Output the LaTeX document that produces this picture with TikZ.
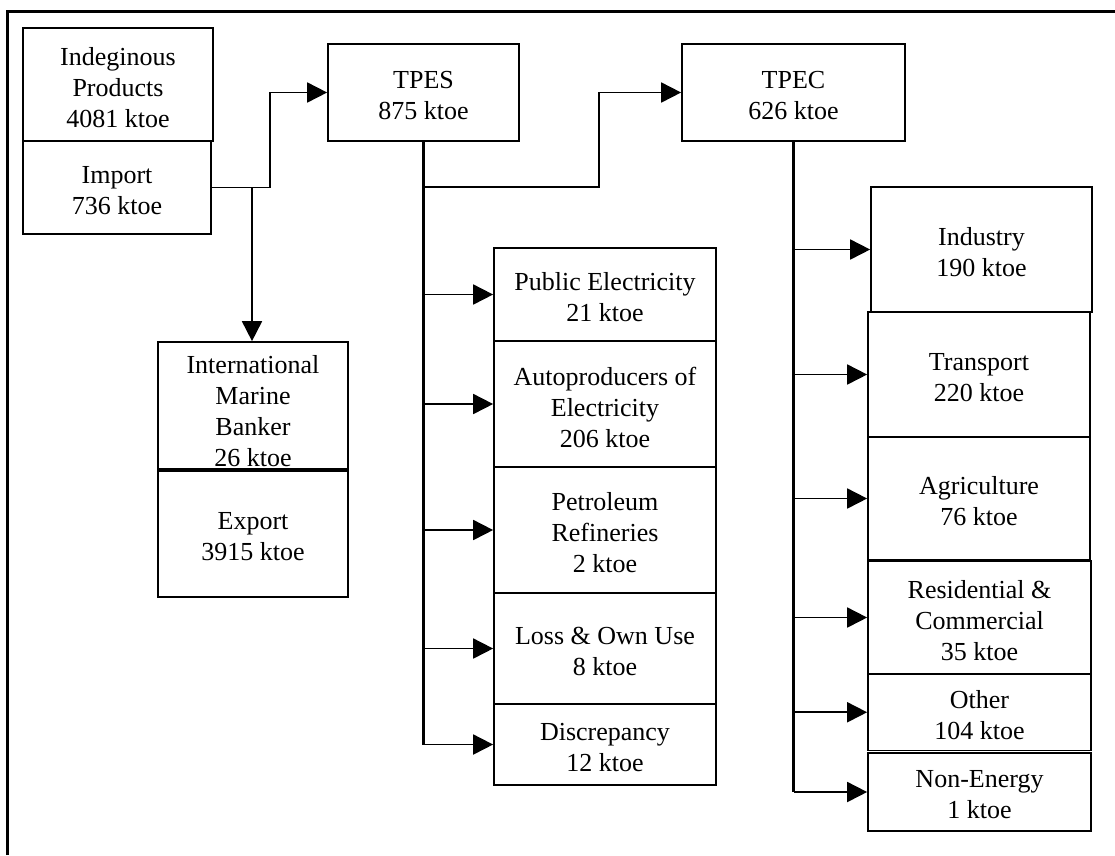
\documentclass[tikz,border=0pt]{standalone}
\usepackage{fontspec}
\setmainfont{Liberation Serif}
\usetikzlibrary{arrows.meta}
\newcommand\mkbox[7][-3pt]{%
  \node[boxframe, minimum width=#5, minimum height=#6] (#2) at (#3,#4) {};
  \node[boxtext] (#2-t) at ([yshift=#1]#2.center) {#7};}
\begin{document}
\begin{tikzpicture}[x=1pt,y=-1pt,
  boxframe/.style={draw, line width=1.7pt, inner sep=0pt},
  boxtext/.style={inner sep=0pt, align=center, font=\fontsize{26}{31}\selectfont},
  trunk/.style={line width=2.6pt},
  arr/.style={line width=1.8pt, -{Triangle[length=20pt,width=20pt]}},
  frame/.style={line width=3pt}]
\useasboundingbox (0,0) rectangle (1115,855);
% frame (only top and left edges visible)
\draw[frame] (7,855) -- (7,11) -- (1115,11);

% left column
\mkbox{ind}{118}{84.5}{190pt}{113pt}{Indeginous\\Products\\4081 ktoe}
\mkbox{imp}{117}{187.5}{188pt}{93pt}{Import\\736 ktoe}
\mkbox[-5.5pt]{intl}{253}{405.5}{190pt}{127pt}{\fontsize{26}{32}\selectfont International\\Marine\\Banker\\26 ktoe}
\mkbox{exp}{253}{534}{190pt}{126pt}{Export\\3915 ktoe}

% TPES / TPEC
\mkbox{tpes}{423.5}{92.5}{191pt}{97pt}{TPES\\875 ktoe}
\mkbox{tpec}{793.5}{92.5}{223pt}{97pt}{TPEC\\626 ktoe}

% TPES outputs
\mkbox{pub}{605}{294.5}{222pt}{93pt}{Public Electricity\\21 ktoe}
\mkbox{auto}{605}{404}{222pt}{126pt}{Autoproducers of\\Electricity\\206 ktoe}
\mkbox{petr}{605}{530}{222pt}{126pt}{Petroleum\\Refineries\\2 ktoe}
\mkbox{loss}{605}{648.5}{222pt}{111pt}{Loss \& Own Use\\8 ktoe}
\mkbox{disc}{605}{744.5}{222pt}{81pt}{Discrepancy\\12 ktoe}

% TPEC outputs
\mkbox{indu}{981.5}{249.5}{221pt}{125pt}{Industry\\190 ktoe}
\mkbox{trans}{979}{374.5}{222pt}{125pt}{Transport\\220 ktoe}
\mkbox{agri}{979}{498.5}{222pt}{123pt}{Agriculture\\76 ktoe}
\mkbox{res}{979.5}{617.5}{223pt}{113pt}{Residential \&\\Commercial\\35 ktoe}
\mkbox{oth}{979.5}{712.25}{223pt}{76.5pt}{Other\\104 ktoe}
\mkbox{nonen}{979.5}{792}{223pt}{78pt}{Non-Energy\\1 ktoe}

% import flows
\coordinate (j1) at (252,187.5);
\draw[arr] (imp.east) -- ([xshift=58pt]imp.east) |- (tpes.west);
\draw[arr] (j1) -- (intl.north -| j1);

% TPES trunk and branches
\coordinate (t1) at (tpes.south |- 0,187);
\draw[trunk] (tpes.south) -- (tpes.south |- disc.west);
\draw[arr] (t1) -| ([xshift=-82pt]tpec.west) -- (tpec.west);
\foreach \n in {pub,auto,petr,loss,disc}
  \draw[arr] (tpes.south |- \n.west) -- (\n.west);

% TPEC trunk and branches
\draw[trunk] (tpec.south) -- (tpec.south |- nonen.west);
\foreach \n in {indu,trans,agri,res,oth,nonen}
  \draw[arr] (tpec.south |- \n.west) -- (\n.west);
\end{tikzpicture}
\end{document}
